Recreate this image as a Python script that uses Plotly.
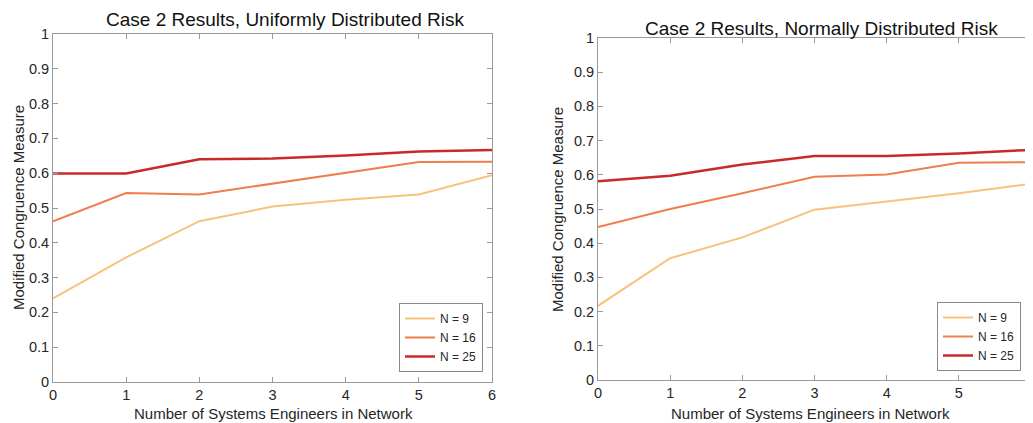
import plotly.graph_objects as go

x_engineers = [0, 1, 2, 3, 4, 5, 6]
series_names = ["N = 9", "N = 16", "N = 25"]

uniform_n9 = [0.240, 0.358, 0.462, 0.504, 0.524, 0.539, 0.594]
uniform_n16 = [0.462, 0.543, 0.539, 0.570, 0.603, 0.632, 0.633]
uniform_n25 = [0.599, 0.599, 0.640, 0.642, 0.651, 0.662, 0.667]

normal_n9 = [0.217, 0.356, 0.417, 0.498, 0.522, 0.546, 0.574]
normal_n16 = [0.447, 0.500, 0.546, 0.594, 0.601, 0.635, 0.637]
normal_n25 = [0.581, 0.597, 0.630, 0.655, 0.655, 0.662, 0.673]

y_ticks = [0, 0.1, 0.2, 0.3, 0.4, 0.5, 0.6, 0.7, 0.8, 0.9, 1]
y_tick_text = ["0", "0.1", "0.2", "0.3", "0.4", "0.5", "0.6", "0.7", "0.8", "0.9", "1"]

colors = ["#f9c27c", "#f07d4e", "#c82a2a"]
widths = [2, 2, 2.5]

FONT = "Liberation Sans, Arial, Helvetica, sans-serif"

fig = go.Figure()

for name, ys, c, w in zip(series_names, [uniform_n9, uniform_n16, uniform_n25], colors, widths):
    fig.add_trace(go.Scatter(x=x_engineers, y=ys, mode="lines", name=name,
                             line=dict(color=c, width=w), xaxis="x", yaxis="y",
                             legend="legend"))
for name, ys, c, w in zip(series_names, [normal_n9, normal_n16, normal_n25], colors, widths):
    fig.add_trace(go.Scatter(x=x_engineers, y=ys, mode="lines", name=name,
                             line=dict(color=c, width=w), xaxis="x2", yaxis="y2",
                             legend="legend2"))

axis_common = dict(showgrid=False, zeroline=False, showline=True, mirror="ticks",
                   linecolor="#9a9a9a", linewidth=1, ticks="inside", ticklen=5,
                   tickcolor="#9a9a9a", automargin=False,
                   tickfont=dict(family=FONT, size=14.5, color="#262626"))

# The page body adds an 8px offset; figure coordinates are screen coordinates minus 8.
OFF = 8
W, H = 1025, 415
def px_x(p):
    return (p - OFF) / W
def px_y(p):
    return 1 - (p - OFF) / H

legend_common = dict(xanchor="right", yanchor="bottom",
                     bgcolor="white", bordercolor="#8a8a8a", borderwidth=1,
                     font=dict(family=FONT, size=12, color="#262626"),
                     tracegroupgap=0, itemwidth=30)

fig.update_layout(
    width=W, height=H,
    margin=dict(l=0, r=0, t=0, b=0, autoexpand=False),
    paper_bgcolor="white", plot_bgcolor="white",
    font=dict(family=FONT, color="#262626"),
    xaxis=dict(domain=[px_x(53), px_x(492)], range=[0, 6], tickvals=x_engineers,
               anchor="y", **axis_common),
    yaxis=dict(domain=[px_y(382), px_y(34)], range=[0, 1], tickvals=y_ticks,
               ticktext=y_tick_text, anchor="x", **axis_common),
    xaxis2=dict(domain=[px_x(598), px_x(1031)], range=[0, 6], tickvals=x_engineers,
                anchor="y2", **axis_common),
    yaxis2=dict(domain=[px_y(380), px_y(38)], range=[0, 1], tickvals=y_ticks,
                ticktext=y_tick_text, anchor="x2", **axis_common),
    legend=dict(x=px_x(483), y=px_y(372), **legend_common),
    legend2=dict(x=px_x(1021), y=px_y(371), **legend_common),
    annotations=[
        dict(text="Case 2 Results, Uniformly Distributed Risk", x=px_x(285), y=px_y(19),
             xref="paper", yref="paper", showarrow=False, xanchor="center", yanchor="middle",
             font=dict(family=FONT, size=19, color="#111111")),
        dict(text="Case 2 Results, Normally Distributed Risk", x=px_x(821), y=px_y(28),
             xref="paper", yref="paper", showarrow=False, xanchor="center", yanchor="middle",
             font=dict(family=FONT, size=19, color="#111111")),
        dict(text="Number of Systems Engineers in Network", x=px_x(273), y=px_y(413),
             xref="paper", yref="paper", showarrow=False, xanchor="center", yanchor="middle",
             font=dict(family=FONT, size=15, color="#262626")),
        dict(text="Number of Systems Engineers in Network", x=px_x(810), y=px_y(413),
             xref="paper", yref="paper", showarrow=False, xanchor="center", yanchor="middle",
             font=dict(family=FONT, size=15, color="#262626")),
        dict(text="Modified Congruence Measure", x=px_x(18), y=px_y(208),
             xref="paper", yref="paper", showarrow=False, xanchor="center", yanchor="middle",
             textangle=-90, font=dict(family=FONT, size=15, color="#262626")),
        dict(text="Modified Congruence Measure", x=px_x(558), y=px_y(210),
             xref="paper", yref="paper", showarrow=False, xanchor="center", yanchor="middle",
             textangle=-90, font=dict(family=FONT, size=15, color="#262626")),
    ],
)

fig.write_html("out.html")
